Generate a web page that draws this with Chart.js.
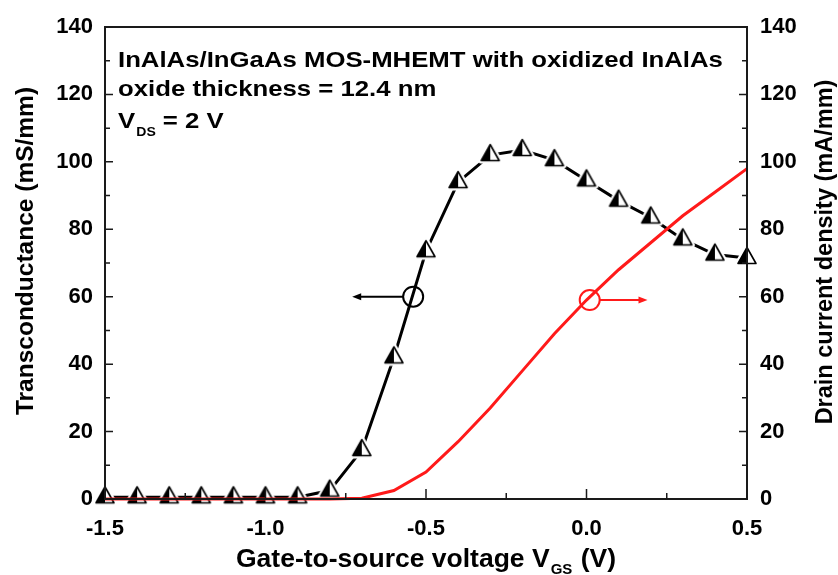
<!DOCTYPE html>
<html>
<head>
<meta charset="utf-8">
<script src="https://cdn.jsdelivr.net/npm/chart.js@4.4.0/dist/chart.umd.min.js"></script>
<style>
  html, body { margin: 0; padding: 0; background: #fff; }
</style>
</head>
<body>
<canvas id="myChart" width="838" height="575"></canvas>
<script>
// gate-to-source voltage steps (V)
const vgs = [-1.5, -1.4, -1.3, -1.2, -1.1, -1.0, -0.9, -0.8, -0.7, -0.6, -0.5, -0.4, -0.3, -0.2, -0.1, 0.0, 0.1, 0.2, 0.3, 0.4, 0.5];
// transconductance (mS/mm), left axis
const gm = [0.5, 0.5, 0.5, 0.5, 0.5, 0.5, 0.5, 2.5, 14.5, 42, 73.5, 94, 102, 103.5, 100.5, 94.5, 88.5, 83.5, 77, 72.5, 71.5];
// drain current density (mA/mm), right axis
const jd = [0, 0, 0, 0, 0, 0, 0, 0, 0.2, 2.5, 8, 17, 27, 38, 49, 59, 68, 76, 84, 91, 98];

const xTicks = [-1.5, -1.0, -0.5, 0.0, 0.5];
const yTicks = [0, 20, 40, 60, 80, 100, 120, 140];

const noteLines = ['InAlAs/InGaAs MOS-MHEMT with oxidized InAlAs', 'oxide thickness = 12.4 nm'];
const xTitle = ['Gate-to-source voltage V', 'GS', ' (V)'];
const yTitle = 'Transconductance (mS/mm)';
const y2Title = 'Drain current density (mA/mm)';

// which curve each circle+arrow points at: [x, y, arrow end x]
const gmMarker = [-0.54, 60, -0.73];
const jdMarker = [0.01, 59, 0.19];

const FONT = '"Liberation Sans", Arial, sans-serif';
const tickFont = { family: FONT, size: 22, weight: 'bold' };

// half filled triangle, with a white rim so the line stops short of it
function makeTriangle() {
    const c = document.createElement('canvas');
    c.width = 26; c.height = 26;
    const g = c.getContext('2d');
    const path = () => {
        g.beginPath();
        g.moveTo(13, 2.5); g.lineTo(22, 18.5); g.lineTo(4, 18.5); g.closePath();
    };
    g.lineJoin = 'round';
    path();
    g.fillStyle = '#fff'; g.fill();
    g.strokeStyle = '#fff'; g.lineWidth = 6; g.stroke();
    g.beginPath();
    g.moveTo(13, 2.5); g.lineTo(13, 18.5); g.lineTo(4, 18.5); g.closePath();
    g.fillStyle = '#000'; g.fill();
    path();
    g.strokeStyle = '#000'; g.lineWidth = 1.6; g.stroke();
    return c;
}

function arrow(ctx, x0, x1, y, color) {
    const dir = Math.sign(x1 - x0);
    ctx.strokeStyle = color; ctx.fillStyle = color; ctx.lineWidth = 2;
    ctx.beginPath(); ctx.moveTo(x0, y); ctx.lineTo(x1 - dir * 6, y); ctx.stroke();
    ctx.beginPath();
    ctx.moveTo(x1, y); ctx.lineTo(x1 - dir * 9, y - 3.5); ctx.lineTo(x1 - dir * 9, y + 3.5); ctx.closePath();
    ctx.fill();
}

const decorations = {
    id: 'decorations',
    afterDatasetsDraw(chart) {
        const { ctx, chartArea: a, scales: { x, y, y2 } } = chart;
        ctx.save();

        // frame
        ctx.strokeStyle = '#1a1a1a';
        ctx.lineWidth = 2;
        ctx.strokeRect(a.left, a.top, a.right - a.left, a.bottom - a.top);

        // inward ticks, minor ones halfway
        ctx.lineWidth = 1.5;
        ctx.beginPath();
        xTicks.forEach((v, i) => {
            const px = x.getPixelForValue(v);
            ctx.moveTo(px, a.bottom); ctx.lineTo(px, a.bottom - 10);
            if (i < xTicks.length - 1) {
                const mx = x.getPixelForValue((v + xTicks[i + 1]) / 2);
                ctx.moveTo(mx, a.bottom); ctx.lineTo(mx, a.bottom - 6);
            }
        });
        yTicks.forEach((v, i) => {
            const py = y.getPixelForValue(v);
            const py2 = y2.getPixelForValue(v);
            ctx.moveTo(a.left, py); ctx.lineTo(a.left + 8, py);
            ctx.moveTo(a.right, py2); ctx.lineTo(a.right - 8, py2);
            if (i < yTicks.length - 1) {
                const m = (v + yTicks[i + 1]) / 2;
                ctx.moveTo(a.left, y.getPixelForValue(m)); ctx.lineTo(a.left + 5, y.getPixelForValue(m));
                ctx.moveTo(a.right, y2.getPixelForValue(m)); ctx.lineTo(a.right - 5, y2.getPixelForValue(m));
            }
        });
        ctx.stroke();

        // circles + arrows
        const cx = x.getPixelForValue(gmMarker[0]), cy = y.getPixelForValue(gmMarker[1]);
        ctx.strokeStyle = '#000'; ctx.lineWidth = 2;
        ctx.beginPath(); ctx.arc(cx, cy, 10, 0, Math.PI * 2); ctx.stroke();
        arrow(ctx, cx - 10, x.getPixelForValue(gmMarker[2]), cy, '#000');

        const rx = x.getPixelForValue(jdMarker[0]), ry = y2.getPixelForValue(jdMarker[1]);
        ctx.strokeStyle = '#ff1a1a'; ctx.lineWidth = 2;
        ctx.beginPath(); ctx.arc(rx, ry, 10, 0, Math.PI * 2); ctx.stroke();
        arrow(ctx, rx + 10, x.getPixelForValue(jdMarker[2]), ry, '#ff1a1a');

        // note text (stretched a bit wider, like the original)
        ctx.fillStyle = '#000';
        ctx.textBaseline = 'alphabetic';
        ctx.textAlign = 'left';
        const noteFont = 'bold 22px ' + FONT;
        const bases = [67, 96];
        noteLines.forEach((t, i) => {
            ctx.save();
            ctx.translate(118, bases[i]);
            ctx.scale(1.17, 1);
            ctx.font = noteFont;
            ctx.fillText(t, 0, 0);
            ctx.restore();
        });
        ctx.save();
        ctx.translate(118, 128);
        ctx.scale(1.17, 1);
        ctx.font = noteFont;
        ctx.fillText('V', 0, 0);
        let w = ctx.measureText('V').width;
        ctx.font = 'bold 12px ' + FONT;
        ctx.fillText('DS', w + 1, 8);
        w += ctx.measureText('DS').width + 3;
        ctx.font = noteFont;
        ctx.fillText('= 2 V', w + 4, 0);
        ctx.restore();

        // x title with subscript
        const tf = 'bold 26.5px ' + FONT, sf = 'bold 15px ' + FONT;
        ctx.font = tf;
        const w0 = ctx.measureText(xTitle[0]).width;
        const w2 = ctx.measureText(xTitle[2]).width;
        ctx.font = sf;
        const w1 = ctx.measureText(xTitle[1]).width + 2;
        let tx = (a.left + a.right) / 2 - (w0 + w1 + w2) / 2;
        const ty = 567;
        ctx.font = tf; ctx.fillText(xTitle[0], tx, ty);
        ctx.font = sf; ctx.fillText(xTitle[1], tx + w0 + 1, ty + 7);
        ctx.font = tf; ctx.fillText(xTitle[2], tx + w0 + w1, ty);

        // y titles
        ctx.textAlign = 'center';
        ctx.textBaseline = 'middle';
        ctx.save();
        ctx.font = 'bold 24.5px ' + FONT;
        ctx.translate(26, 251);
        ctx.rotate(-Math.PI / 2);
        ctx.fillText(yTitle, 0, 0);
        ctx.restore();
        ctx.save();
        ctx.font = 'bold 23.5px ' + FONT;
        ctx.translate(826, 252);
        ctx.rotate(-Math.PI / 2);
        ctx.fillText(y2Title, 0, 0);
        ctx.restore();

        ctx.restore();
    }
};

const tri = makeTriangle();

function fixTicks(list) {
    return (s) => { s.ticks = list.map(v => ({ value: v })); };
}

new Chart(document.getElementById('myChart'), {
    type: 'line',
    data: {
        datasets: [
            {
                label: 'Drain current density',
                data: vgs.map((v, i) => ({ x: v, y: jd[i] })),
                yAxisID: 'y2',
                borderColor: '#ff1a1a',
                borderWidth: 3,
                pointRadius: 0,
                clip: 4,
                order: 0
            },
            {
                label: 'Transconductance',
                data: vgs.map((v, i) => ({ x: v, y: gm[i] })),
                yAxisID: 'y',
                borderColor: '#000',
                borderWidth: 3,
                pointStyle: tri,
                pointRadius: 10,
                clip: 12,
                order: 1
            }
        ]
    },
    options: {
        responsive: false,
        animation: false,
        devicePixelRatio: 1,
        layout: { padding: { top: 27 } },
        plugins: { legend: { display: false }, tooltip: { enabled: false } },
        scales: {
            x: {
                type: 'linear', min: -1.5, max: 0.5,
                afterFit: s => { s.height = 76; },
                afterBuildTicks: fixTicks(xTicks),
                grid: { display: false, drawTicks: false },
                border: { display: false },
                ticks: { callback: v => v.toFixed(1), padding: 17, color: '#000', font: tickFont, maxRotation: 0, autoSkip: false }
            },
            y: {
                position: 'left', min: 0, max: 140,
                afterFit: s => { s.width = 105; },
                afterBuildTicks: fixTicks(yTicks),
                grid: { display: false, drawTicks: false },
                border: { display: false },
                ticks: { padding: 12, color: '#000', font: tickFont }
            },
            y2: {
                position: 'right', min: 0, max: 140,
                afterFit: s => { s.width = 91; },
                afterBuildTicks: fixTicks(yTicks),
                grid: { display: false, drawTicks: false },
                border: { display: false },
                ticks: { padding: 13, color: '#000', font: tickFont }
            }
        }
    },
    plugins: [decorations]
});
</script>
</body>
</html>
